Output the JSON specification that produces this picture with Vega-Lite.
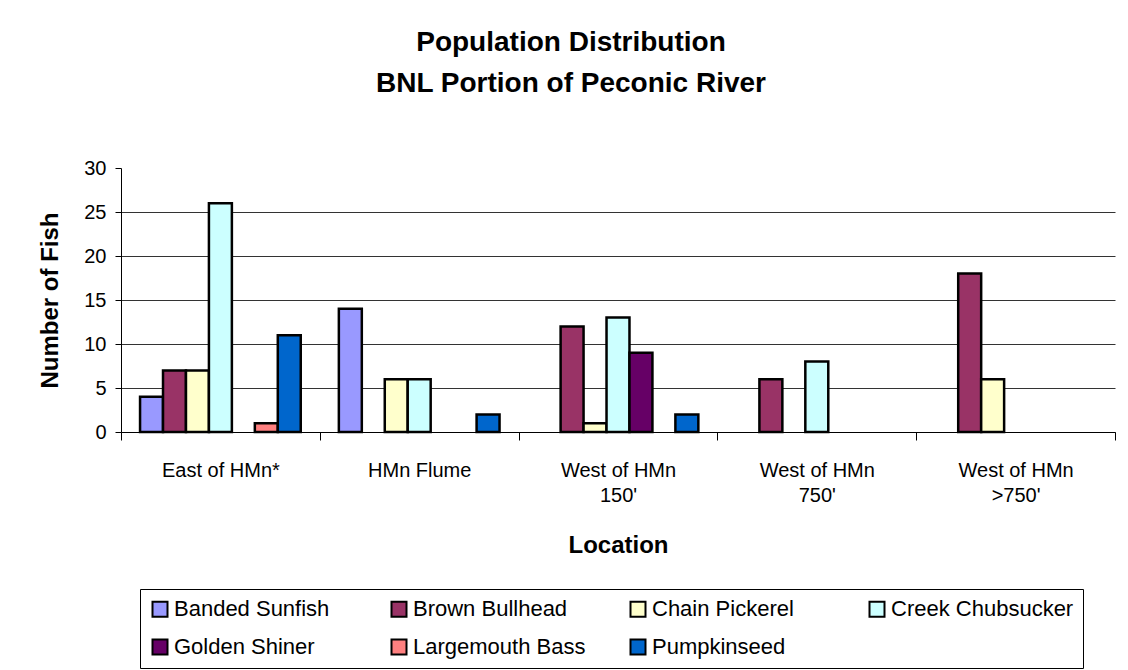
{
  "$schema": "https://vega.github.io/schema/vega-lite/v6.json",
  "width": 994,
  "height": 264,
  "autosize": {"type": "none"},
  "padding": {"left": 121, "top": 168, "right": 13, "bottom": 238},
  "background": "white",
  "title": {
    "text": ["Population Distribution", "BNL Portion of Peconic River"],
    "font": "Liberation Sans",
    "fontSize": 28,
    "fontWeight": "bold",
    "color": "black",
    "lineHeight": 41,
    "anchor": "middle",
    "dx": -47,
    "offset": 60
  },
  "data": {
    "values": [
      {"location": "East of HMn*", "species": "Banded Sunfish", "count": 4},
      {"location": "East of HMn*", "species": "Brown Bullhead", "count": 7},
      {"location": "East of HMn*", "species": "Chain Pickerel", "count": 7},
      {"location": "East of HMn*", "species": "Creek Chubsucker", "count": 26},
      {"location": "East of HMn*", "species": "Largemouth Bass", "count": 1},
      {"location": "East of HMn*", "species": "Pumpkinseed", "count": 11},
      {"location": "HMn Flume", "species": "Banded Sunfish", "count": 14},
      {"location": "HMn Flume", "species": "Chain Pickerel", "count": 6},
      {"location": "HMn Flume", "species": "Creek Chubsucker", "count": 6},
      {"location": "HMn Flume", "species": "Pumpkinseed", "count": 2},
      {"location": "West of HMn|150'", "species": "Brown Bullhead", "count": 12},
      {"location": "West of HMn|150'", "species": "Chain Pickerel", "count": 1},
      {"location": "West of HMn|150'", "species": "Creek Chubsucker", "count": 13},
      {"location": "West of HMn|150'", "species": "Golden Shiner", "count": 9},
      {"location": "West of HMn|150'", "species": "Pumpkinseed", "count": 2},
      {"location": "West of HMn|750'", "species": "Brown Bullhead", "count": 6},
      {"location": "West of HMn|750'", "species": "Creek Chubsucker", "count": 8},
      {"location": "West of HMn|>750'", "species": "Brown Bullhead", "count": 18},
      {"location": "West of HMn|>750'", "species": "Chain Pickerel", "count": 6}
    ]
  },
  "mark": {"type": "bar", "stroke": "black", "strokeWidth": 2.5},
  "encoding": {
    "x": {
      "field": "location",
      "type": "nominal",
      "scale": {
        "domain": ["East of HMn*", "HMn Flume", "West of HMn|150'", "West of HMn|750'", "West of HMn|>750'"],
        "paddingInner": 0,
        "paddingOuter": 0
      },
      "axis": {
        "title": "Location",
        "labelAngle": 0,
        "labelExpr": "split(datum.label, '|')",
        "tickBand": "extent",
        "tickSize": 8,
        "tickColor": "black",
        "domainColor": "black",
        "labelPadding": 20,
        "labelLineHeight": 25,
        "labelFontSize": 20,
        "labelFont": "Liberation Sans",
        "labelColor": "black",
        "titleFont": "Liberation Sans",
        "titleFontSize": 24,
        "titleFontWeight": "bold",
        "titleColor": "black",
        "titlePadding": 28
      }
    },
    "xOffset": {
      "field": "species",
      "type": "nominal",
      "scale": {
        "domain": ["Banded Sunfish", "Brown Bullhead", "Chain Pickerel", "Creek Chubsucker", "Golden Shiner", "Largemouth Bass", "Pumpkinseed"],
        "paddingInner": 0,
        "paddingOuter": 0.83
      }
    },
    "y": {
      "field": "count",
      "type": "quantitative",
      "scale": {"domain": [0, 30]},
      "axis": {
        "title": "Number of Fish",
        "values": [0, 5, 10, 15, 20, 25, 30],
        "grid": true,
        "gridColor": "black",
        "gridWidth": 1,
        "gridOpacity": {"condition": {"test": "datum.value == 30", "value": 0}, "value": 0.8},
        "tickSize": 6,
        "tickColor": "black",
        "domainColor": "black",
        "labelPadding": 9,
        "labelFontSize": 20,
        "labelFont": "Liberation Sans",
        "labelColor": "black",
        "titleFont": "Liberation Sans",
        "titleFontSize": 24,
        "titleFontWeight": "bold",
        "titleColor": "black",
        "titlePadding": 21
      }
    },
    "color": {
      "field": "species",
      "type": "nominal",
      "scale": {
        "domain": ["Banded Sunfish", "Brown Bullhead", "Chain Pickerel", "Creek Chubsucker", "Golden Shiner", "Largemouth Bass", "Pumpkinseed"],
        "range": ["#9999FF", "#993366", "#FFFFCC", "#CCFFFF", "#660066", "#FF8080", "#0066CC"]
      },
      "legend": {
        "title": null,
        "orient": "none",
        "legendX": 19,
        "legendY": 421,
        "direction": "horizontal",
        "columns": 4,
        "gridAlign": "all",
        "columnPadding": 30,
        "rowPadding": 14,
        "padding": 9,
        "strokeColor": "black",
        "fillColor": "white",
        "symbolType": "square",
        "symbolSize": 225,
        "symbolStrokeColor": "black",
        "symbolStrokeWidth": 2,
        "symbolOpacity": 1,
        "labelFont": "Liberation Sans",
        "labelFontSize": 22,
        "labelColor": "black",
        "labelLimit": 300,
        "labelOffset": 3
      }
    }
  },
  "config": {
    "view": {"stroke": null},
    "axis": {"domainWidth": 1, "tickWidth": 1}
  }
}
